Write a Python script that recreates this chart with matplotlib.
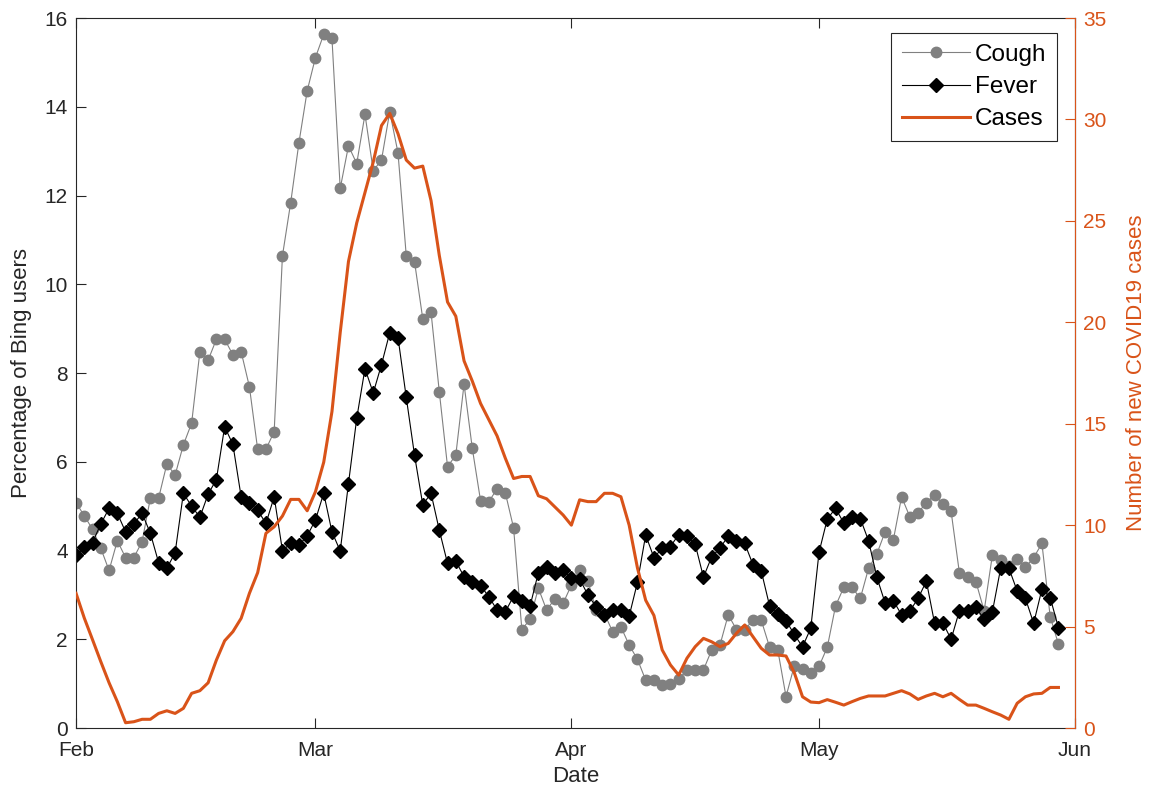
"""
Bing symptom searches vs new COVID19 cases
"""

import pandas as pd
import matplotlib
matplotlib.use("Agg")
import matplotlib.pyplot as plt
import matplotlib.dates as mdates

plt.rcParams["font.family"] = ["Liberation Sans", "DejaVu Sans"]

# --------------------------
# Data (daily, from Feb 1)
# --------------------------

start_date = "2020-02-01"

cough = [
    5.08, 4.78, 4.48, 4.05, 3.55, 4.22, 3.84, 3.84, 4.20, 5.18,
    5.18, 5.95, 5.70, 6.38, 6.87, 8.48, 8.29, 8.76, 8.76, 8.41,
    8.48, 7.69, 6.28, 6.28, 6.68, 10.64, 11.84, 13.19, 14.36, 15.11,
    15.63, 15.54, 12.16, 13.12, 12.72, 13.83, 12.56, 12.80, 13.89, 12.96,
    10.64, 10.51, 9.22, 9.37, 7.58, 5.89, 6.15, 7.75, 6.30, 5.12,
    5.10, 5.39, 5.30, 4.51, 2.22, 2.45, 3.15, 2.66, 2.91, 2.81,
    3.22, 3.55, 3.32, 2.65, 2.58, 2.17, 2.28, 1.87, 1.55, 1.08,
    1.08, 0.97, 0.99, 1.10, 1.31, 1.31, 1.31, 1.76, 1.87, 2.55,
    2.22, 2.22, 2.43, 2.43, 1.83, 1.76, 0.71, 1.40, 1.32, 1.23,
    1.39, 1.82, 2.75, 3.17, 3.17, 2.92, 3.60, 3.92, 4.42, 4.24,
    5.21, 4.76, 4.85, 5.08, 5.25, 5.05, 4.88, 3.50, 3.41, 3.30,
    2.64, 3.90, 3.79, 3.65, 3.80, 3.62, 3.84, 4.16, 2.51, 1.89,
]

fever = [
    3.90, 4.09, 4.18, 4.60, 4.95, 4.84, 4.42, 4.60, 4.84, 4.39,
    3.73, 3.60, 3.95, 5.29, 5.00, 4.75, 5.27, 5.60, 6.79, 6.39,
    5.21, 5.08, 4.91, 4.61, 5.21, 4.00, 4.16, 4.12, 4.33, 4.69,
    5.29, 4.42, 3.99, 5.51, 6.98, 8.10, 7.55, 8.19, 8.91, 8.80,
    7.45, 6.15, 5.03, 5.29, 4.46, 3.71, 3.76, 3.41, 3.30, 3.21,
    2.96, 2.66, 2.62, 2.97, 2.87, 2.75, 3.50, 3.62, 3.50, 3.56,
    3.38, 3.36, 3.00, 2.73, 2.55, 2.66, 2.66, 2.52, 3.28, 4.35,
    3.84, 4.05, 4.09, 4.36, 4.33, 4.14, 3.40, 3.86, 4.05, 4.33,
    4.22, 4.16, 3.68, 3.54, 2.76, 2.56, 2.42, 2.11, 1.83, 2.25,
    3.96, 4.71, 4.95, 4.62, 4.76, 4.72, 4.22, 3.40, 2.82, 2.87,
    2.55, 2.64, 2.92, 3.31, 2.36, 2.37, 2.00, 2.64, 2.64, 2.72,
    2.45, 2.62, 3.60, 3.60, 3.09, 2.92, 2.36, 3.13, 2.94, 2.26,
]

cases = [
    6.64, 5.42, 4.35, 3.27, 2.23, 1.30, 0.26, 0.31, 0.43, 0.43,
    0.72, 0.85, 0.72, 0.97, 1.71, 1.84, 2.23, 3.35, 4.30, 4.75,
    5.41, 6.64, 7.66, 9.60, 9.92, 10.45, 11.27, 11.27, 10.71, 11.65,
    13.1, 15.6, 19.5, 23.0, 24.9, 26.4, 27.9, 29.7, 30.3, 29.3,
    28.0, 27.6, 27.7, 26.0, 23.3, 21.0, 20.3, 18.1, 17.1, 16.0,
    15.2, 14.4, 13.3, 12.3, 12.4, 12.4, 11.45, 11.3, 10.9, 10.5,
    10.0, 11.25, 11.16, 11.16, 11.57, 11.57, 11.4, 10.0, 7.9, 6.3,
    5.55, 3.85, 3.11, 2.61, 3.44, 4.01, 4.42, 4.25, 4.01, 4.17,
    4.67, 5.08, 4.50, 3.93, 3.60, 3.60, 3.55, 2.73, 1.54, 1.28,
    1.25, 1.40, 1.27, 1.13, 1.30, 1.46, 1.58, 1.58, 1.58, 1.71,
    1.84, 1.68, 1.41, 1.58, 1.71, 1.54, 1.71, 1.41, 1.13, 1.13,
    0.97, 0.80, 0.64, 0.43, 1.22, 1.54, 1.68, 1.71, 2.00, 2.00,
]

dates = pd.date_range(start_date, periods=len(cough), freq="D")

# --------------------------
# Styles
# --------------------------

orange = "#D95319"
axis_grey = "#262626"
tick_size = 15
label_size = 16

# --------------------------
# Figure
# --------------------------

fig = plt.figure(figsize=(11.54, 7.94), dpi=100)
ax = fig.add_axes([0.0659, 0.0831, 0.8656, 0.8942])

ax.plot(dates, cough, color="#808080", linewidth=0.8,
        marker="o", markersize=7.5, label="Cough")
ax.plot(dates, fever, color="black", linewidth=0.8,
        marker="D", markersize=7, label="Fever")

ax.set_xlim(pd.Timestamp("2020-02-01"), pd.Timestamp("2020-06-01"))
ax.set_ylim(0, 16)
ax.set_yticks(range(0, 17, 2))
ax.xaxis.set_major_locator(mdates.MonthLocator())
ax.xaxis.set_major_formatter(mdates.DateFormatter("%b"))

ax.set_xlabel("Date", fontsize=label_size, color=axis_grey, labelpad=5)
ax.set_ylabel("Percentage of Bing users", fontsize=label_size,
              color=axis_grey, labelpad=9)

ax.tick_params(axis="x", direction="in", length=7, top=True,
               labelsize=tick_size, colors=axis_grey, pad=9)
ax.tick_params(axis="y", direction="in", length=7, right=False,
               labelsize=tick_size, colors=axis_grey, pad=6)

for side in ["left", "bottom", "top"]:
    ax.spines[side].set_color(axis_grey)
    ax.spines[side].set_linewidth(0.8)

# --------------------------
# Right axis: cases
# --------------------------

ax2 = ax.twinx()
ax2.plot(dates, cases, color=orange, linewidth=2.2, label="Cases")
ax2.set_ylim(0, 35)
ax2.set_yticks(range(0, 36, 5))
ax2.set_ylabel("Number of new COVID19 cases", fontsize=label_size,
               color=orange, labelpad=14)
ax2.tick_params(axis="y", direction="in", length=7,
                labelsize=tick_size, colors=orange, pad=6)
ax2.spines["right"].set_color(orange)
ax2.spines["right"].set_linewidth(0.8)
ax2.spines["left"].set_visible(False)
ax2.spines["top"].set_visible(False)
ax2.spines["bottom"].set_visible(False)

# --------------------------
# Legend
# --------------------------

handles = ax.get_lines() + ax2.get_lines()
legend = ax2.legend(
    handles,
    [h.get_label() for h in handles],
    loc="upper right",
    bbox_to_anchor=(1 - 18 / 999, 1 - 15 / 710),
    borderaxespad=0,
    fontsize=17.5,
    handlelength=2.8,
    handletextpad=0.2,
    labelspacing=0.42,
    borderpad=0.45,
    fancybox=False,
    framealpha=1,
    edgecolor=axis_grey,
)
legend.get_frame().set_linewidth(0.8)

fig.savefig("out.png", dpi=100)
